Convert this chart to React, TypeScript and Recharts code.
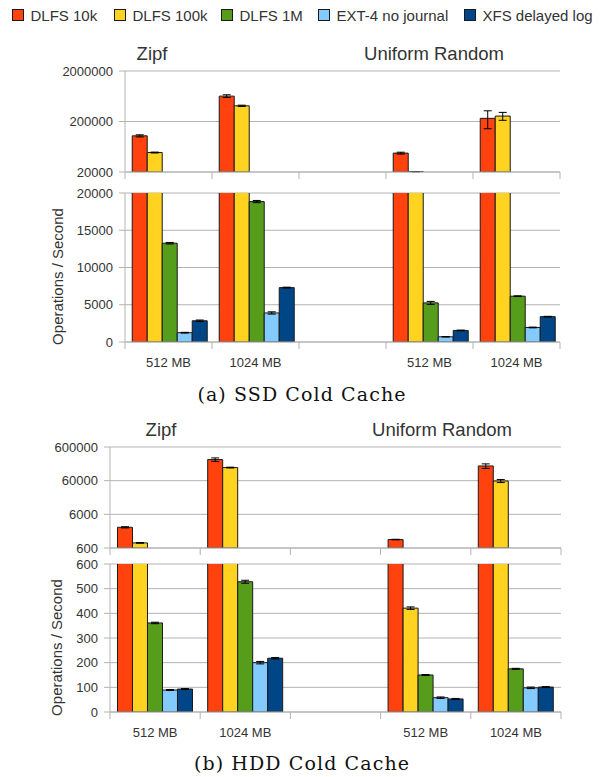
import { BarChart, Bar, XAxis, YAxis, CartesianGrid, ErrorBar } from 'recharts';

const FONT = '"Liberation Sans", Arial, sans-serif';
const GRID = '#b3b3b3';
const TEXT = '#333333';
const OUTLINE = '#1a1a1a';

const categories = ['512 MB', '1024 MB', '', '512 MB', '1024 MB'];
const seriesNames = ['DLFS 10k', 'DLFS 100k', 'DLFS 1M', 'EXT-4 no journal', 'XFS delayed log'];
const seriesKeys = ['d10k', 'd100k', 'd1m', 'ext4', 'xfs'];
const seriesColors = ['#ff420e', '#ffd320', '#579d1c', '#83caff', '#004586'];

type Err = [number, number] | null;

// SSD cold cache, operations / second (Zipf 512, Zipf 1024, gap, Uniform 512, Uniform 1024)
const ssdDlfs10k = [104000, 636000, null, 47300, 231000];
const ssdDlfs100k = [48600, 409000, null, 20300, 256000];
const ssdDlfs1M = [13260, 18850, null, 5250, 6150];
const ssdExt4 = [1250, 3900, null, 700, 1950];
const ssdXfs = [2850, 7300, null, 1550, 3400];

const ssdDlfs10kErr: Err[] = [[5000, 5000], [40000, 40000], null, [2000, 2000], [87000, 95000]];
const ssdDlfs100kErr: Err[] = [[1000, 1000], [12000, 12000], null, [0, 0], [45000, 47000]];
const ssdDlfs1MErr: Err[] = [[100, 100], [150, 150], null, [200, 200], [50, 50]];
const ssdExt4Err: Err[] = [[50, 50], [150, 150], null, [30, 30], [50, 50]];
const ssdXfsErr: Err[] = [[100, 100], [60, 60], null, [50, 50], [50, 50]];

// HDD cold cache
const hddDlfs10k = [2470, 254000, null, 1070, 164000];
const hddDlfs100k = [850, 147000, null, 421, 58700];
const hddDlfs1M = [361, 528, null, 150, 175];
const hddExt4 = [89, 200, null, 58, 98];
const hddXfs = [93, 218, null, 53, 101];

const hddDlfs10kErr: Err[] = [[100, 100], [30000, 30000], null, [20, 20], [25000, 25000]];
const hddDlfs100kErr: Err[] = [[20, 20], [4000, 4000], null, [5, 5], [6000, 6000]];
const hddDlfs1MErr: Err[] = [[3, 3], [6, 6], null, [2, 2], [2, 2]];
const hddExt4Err: Err[] = [[2, 2], [5, 5], null, [3, 3], [3, 3]];
const hddXfsErr: Err[] = [[2, 2], [3, 3], null, [2, 2], [2, 2]];

const ssdLogTicks = [20000, 200000, 2000000];
const ssdLinTicks = [0, 5000, 10000, 15000, 20000];
const hddLogTicks = [600, 6000, 60000, 600000];
const hddLinTicks = [0, 100, 200, 300, 400, 500, 600];

type Row = Record<string, any>;

function buildRows(values: (number | null)[][], errors: Err[][]): Row[] {
  return categories.map((c, i) => {
    const row: Row = { id: `c${i}`, label: c };
    seriesKeys.forEach((k, s) => {
      row[k] = values[s][i];
      row[k + 'Err'] = errors[s][i];
    });
    return row;
  });
}

const ssdRows = buildRows(
  [ssdDlfs10k, ssdDlfs100k, ssdDlfs1M, ssdExt4, ssdXfs],
  [ssdDlfs10kErr, ssdDlfs100kErr, ssdDlfs1MErr, ssdExt4Err, ssdXfsErr],
);
const hddRows = buildRows(
  [hddDlfs10k, hddDlfs100k, hddDlfs1M, hddExt4, hddXfs],
  [hddDlfs10kErr, hddDlfs100kErr, hddDlfs1MErr, hddExt4Err, hddXfsErr],
);

// a bar whose value sits below this part's floor is not drawn here
const valueKey = (k: string, lo: number) => (r: Row) => {
  const v = r[k];
  return v == null || v <= lo ? null : v;
};

// only show an error bar when the bar's top is inside this part's range
const errKey = (k: string, lo: number, hi: number) => (r: Row) => {
  const v = r[k];
  if (v == null || v <= lo || v > hi) return null;
  return r[k + 'Err'];
};

const makeTick = (band: number, labels: boolean) => (p: any) => {
  const { x, y, index } = p;
  const left = x - band / 2;
  return (
    <g>
      <line x1={left} x2={left} y1={y} y2={y + 7} stroke={GRID} />
      {index === categories.length - 1 && (
        <line x1={x + band / 2} x2={x + band / 2} y1={y} y2={y + 7} stroke={GRID} />
      )}
      {labels && (
        <text x={x} y={y + 25} textAnchor="middle" fontSize={13} fill={TEXT} fontFamily={FONT}>
          {categories[index]}
        </text>
      )}
    </g>
  );
};

interface PartProps {
  rows: Row[];
  top: number;
  height: number;
  marginTop: number;
  axisWidth: number;
  rightMargin: number;
  xHeight: number;
  log: boolean;
  ticks: number[];
  labels: boolean;
  titleDx?: number;
  titleDy?: number;
}

function Part({ rows, top, height, marginTop, axisWidth, rightMargin, xHeight, log, ticks, labels, titleDx = 0, titleDy = 0 }: PartProps) {
  const width = 607;
  const band = (width - axisWidth - rightMargin) / categories.length;
  const lo = ticks[0];
  const hi = ticks[ticks.length - 1];
  return (
    <div style={{ position: 'absolute', left: 0, top }}>
      <BarChart
        width={width}
        height={height}
        data={rows}
        margin={{ top: marginTop, right: rightMargin, bottom: 0, left: 0 }}
        barCategoryGap="8.3%"
        barGap={0}
      >
        <CartesianGrid vertical={false} stroke={GRID} />
        <XAxis
          dataKey="id"
          height={xHeight}
          interval={0}
          tickSize={0}
          tickMargin={0}
          tickLine={false}
          axisLine={{ stroke: GRID }}
          tick={makeTick(band, labels)}
        />
        <YAxis
          width={axisWidth}
          type="number"
          scale={log ? 'log' : 'auto'}
          domain={[lo, hi]}
          ticks={ticks}
          allowDataOverflow
          interval={0}
          tickSize={6}
          tickMargin={6}
          tickLine={{ stroke: GRID }}
          axisLine={{ stroke: GRID }}
          tick={{ fill: TEXT, fontSize: 13, fontFamily: FONT }}
          label={
            labels
              ? {
                  value: 'Operations / Second',
                  angle: -90,
                  position: 'center',
                  dx: titleDx,
                  dy: titleDy,
                  style: { fill: TEXT, fontSize: 15, fontFamily: FONT, textAnchor: 'middle' },
                }
              : undefined
          }
        />
        <YAxis
          yAxisId="edge"
          orientation="right"
          width={0}
          domain={[0, 1]}
          tick={false}
          tickLine={false}
          axisLine={{ stroke: GRID }}
        />
        {seriesKeys.map((k, s) => (
          <Bar
            key={k}
            name={seriesNames[s]}
            dataKey={valueKey(k, log ? lo : -1)}
            fill={seriesColors[s]}
            stroke={OUTLINE}
            strokeWidth={1}
            isAnimationActive={false}
          >
            <ErrorBar dataKey={errKey(k, lo, hi)} width={4} stroke="#000" strokeWidth={1} direction="y" />
          </Bar>
        ))}
      </BarChart>
    </div>
  );
}

const legendX = [12, 114, 221, 318, 464];

export default function App() {
  return (
    <div style={{ position: 'absolute', left: 0, top: 0, width: 607, height: 777, background: '#fff' }}>
      <Part rows={ssdRows} top={60} height={120} marginTop={11} axisWidth={125} rightMargin={47} xHeight={8} log ticks={ssdLogTicks} labels={false} />
      <Part rows={ssdRows} top={183} height={189} marginTop={10} axisWidth={125} rightMargin={47} xHeight={30} log={false} ticks={ssdLinTicks} labels titleDx={-5} titleDy={9} />
      <Part rows={hddRows} top={436} height={120} marginTop={11} axisWidth={110} rightMargin={46} xHeight={8} log ticks={hddLogTicks} labels={false} />
      <Part rows={hddRows} top={554} height={188} marginTop={10} axisWidth={110} rightMargin={46} xHeight={30} log={false} ticks={hddLinTicks} labels titleDx={2} titleDy={9.5} />

      <svg width={607} height={777} style={{ position: 'absolute', left: 0, top: 0, pointerEvents: 'none' }}>
        {seriesNames.map((name, i) => (
          <g key={name}>
            <rect x={legendX[i] + 0.5} y={9.5} width={11} height={11} fill={seriesColors[i]} stroke={OUTLINE} />
            <text x={legendX[i] + 18.5} y={21} fontSize={15} fill={TEXT} fontFamily={FONT}>
              {name}
            </text>
          </g>
        ))}
        <g fontFamily={FONT} fontSize={18.5} fill={TEXT} textAnchor="middle">
          <text x={152} y={59.5}>Zipf</text>
          <text x={434} y={59.5}>Uniform Random</text>
          <text x={161} y={436}>Zipf</text>
          <text x={442} y={436}>Uniform Random</text>
        </g>
        <g fontFamily='"DejaVu Serif", serif' fontSize={19} fill="#111" textAnchor="middle" letterSpacing={1.1}>
          <text x={302} y={401}>(a) SSD Cold Cache</text>
          <text x={302} y={770}>(b) HDD Cold Cache</text>
        </g>
      </svg>
    </div>
  );
}
